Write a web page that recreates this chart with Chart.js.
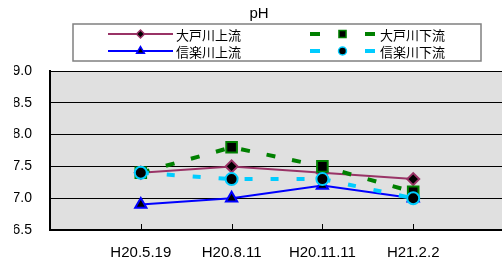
<!DOCTYPE html>
<html><head><meta charset="utf-8">
<script src="https://cdn.jsdelivr.net/npm/chart.js@4/dist/chart.umd.min.js"></script>
<style>
html,body{margin:0;padding:0;overflow:hidden;background:#fff;}
#wrap{width:518px;height:268px;position:relative;}
</style></head>
<body>
<div id="wrap"><canvas id="c"></canvas></div>
<script>
const categories = ['', 'H20.5.19', 'H20.8.11', 'H20.11.11', 'H21.2.2', ''];
const seriesNames = ['大戸川上流', '大戸川下流', '信楽川上流', '信楽川下流'];
const ohtoUpper = [null, 7.4, 7.5, 7.4, 7.3, null];
const ohtoLower = [null, 7.4, 7.8, 7.5, 7.1, null];
const shigarakiUpper = [null, 6.9, 7.0, 7.2, 7.0, null];
const shigarakiLower = [null, 7.4, 7.3, 7.3, 7.0, null];
const yTicks = [6.5, 7.0, 7.5, 8.0, 8.5, 9.0];

const FONT = "'Liberation Sans', Arial, sans-serif";
const JFONT = "'Noto Sans CJK JP', sans-serif";

const plotBg = {
  id: 'plotBg',
  beforeDraw(chart) {
    const {ctx, chartArea: a} = chart;
    ctx.save();
    ctx.fillStyle = '#e0e0e0';
    ctx.fillRect(a.left, a.top, a.right - a.left, a.bottom - a.top);
    ctx.restore();
  },
  afterDraw(chart) {
    const {ctx, chartArea: a} = chart;
    const xs = chart.scales.x;
    // inner tick marks
    ctx.save();
    ctx.strokeStyle = '#000';
    ctx.lineWidth = 1;
    for (let i = 0; i < categories.length; i++) {
      const px = Math.round(xs.getPixelForValue(i)) + 0.5;
      ctx.beginPath();
      ctx.moveTo(px, a.bottom);
      ctx.lineTo(px, a.bottom - 6);
      ctx.stroke();
    }
    ctx.restore();
    // legend
    const L = 73, T = 24, R = 481, B = 61;
    ctx.save();
    ctx.fillStyle = '#fff';
    ctx.fillRect(L, T, R - L, B - T);
    ctx.strokeStyle = '#808080';
    ctx.lineWidth = 1.5;
    ctx.strokeRect(L, T, R - L, B - T);
    const rows = [34, 51];
    const items = [
      {ds: 0, col: 0, row: 0}, {ds: 1, col: 1, row: 0},
      {ds: 2, col: 0, row: 1}, {ds: 3, col: 1, row: 1}
    ];
    const cols = [{x0: 108, x1: 173, tx: 176}, {x0: 310, x1: 375, tx: 380}];
    const legendRadius = {rectRot: 4, rect: 5, triangle: 4.5, circle: 4};
    for (const it of items) {
      const ds = chart.data.datasets[it.ds];
      const c = cols[it.col];
      const y = rows[it.row];
      ctx.save();
      ctx.strokeStyle = ds.borderColor;
      ctx.lineWidth = ds.borderWidth;
      if (ds.borderDash && ds.borderDash.length) ctx.setLineDash([10, 45]);
      ctx.beginPath();
      ctx.moveTo(c.x0, y);
      ctx.lineTo(c.x1, y);
      ctx.stroke();
      ctx.restore();
      ctx.save();
      ctx.fillStyle = ds.pointBackgroundColor;
      ctx.strokeStyle = ds.pointBorderColor;
      ctx.lineWidth = 1.5;
      Chart.helpers.drawPoint(ctx, {pointStyle: ds.pointStyle, radius: legendRadius[ds.pointStyle], rotation: 0, borderWidth: 1.5}, (c.x0 + c.x1) / 2, y);
      ctx.restore();
      ctx.save();
      ctx.fillStyle = '#000';
      ctx.font = '13px ' + JFONT;
      ctx.textBaseline = 'middle';
      ctx.textAlign = 'left';
      ctx.fillText(ds.label, c.tx, y + 1);
      ctx.restore();
    }
    ctx.restore();
  }
};

new Chart(document.getElementById('c'), {
  type: 'line',
  data: {
    labels: categories,
    datasets: [
      {label: seriesNames[0], data: ohtoUpper, borderColor: '#993366', borderWidth: 2,
       pointStyle: 'rectRot', pointRadius: 6, pointBackgroundColor: '#000', pointBorderColor: '#993366', pointBorderWidth: 2, order: 2},
      {label: seriesNames[1], data: ohtoLower, borderColor: '#008000', borderWidth: 4, borderDash: [9, 17],
       pointStyle: 'rect', pointRadius: 7.5, pointBackgroundColor: '#000', pointBorderColor: '#008000', pointBorderWidth: 2, order: 1},
      {label: seriesNames[2], data: shigarakiUpper, borderColor: '#0000ff', borderWidth: 2,
       pointStyle: 'triangle', pointRadius: 6.5, pointBackgroundColor: '#000', pointBorderColor: '#0000ff', pointBorderWidth: 2, order: 3},
      {label: seriesNames[3], data: shigarakiLower, borderColor: '#00ccff', borderWidth: 4, borderDash: [8, 18],
       pointStyle: 'circle', pointRadius: 6, pointBackgroundColor: '#000', pointBorderColor: '#00ccff', pointBorderWidth: 2, order: 0}
    ]
  },
  options: {
    responsive: true,
    maintainAspectRatio: false,
    animation: false,
    layout: {padding: {left: 14, right: 14, top: 0, bottom: 0}},
    plugins: {
      legend: {display: false},
      tooltip: {enabled: false},
      title: {display: true, text: 'pH', color: '#000', font: {family: FONT, size: 15, weight: 'normal'},
              padding: {top: 5, bottom: 48}}
    },
    scales: {
      x: {
        type: 'category',
        offset: false,
        grid: {display: false, drawTicks: false},
        border: {display: true, color: '#000', width: 1.5},
        ticks: {color: '#000', font: {family: FONT, size: 15}, padding: 14, maxRotation: 0, autoSkip: false},
        afterFit(s) { s.height = 38; }
      },
      y: {
        min: 6.5, max: 9.0,
        afterBuildTicks(s) { s.ticks = yTicks.map(v => ({value: v})); },
        grid: {color: '#000', lineWidth: 1, drawTicks: false},
        border: {display: true, color: '#000', width: 2},
        ticks: {color: '#000', font: {family: FONT, size: 14}, padding: 18,
                callback: v => Number(v).toFixed(1)},
        afterFit(s) { s.width = 36; }
      }
    }
  },
  plugins: [plotBg]
});
</script>
</body></html>
